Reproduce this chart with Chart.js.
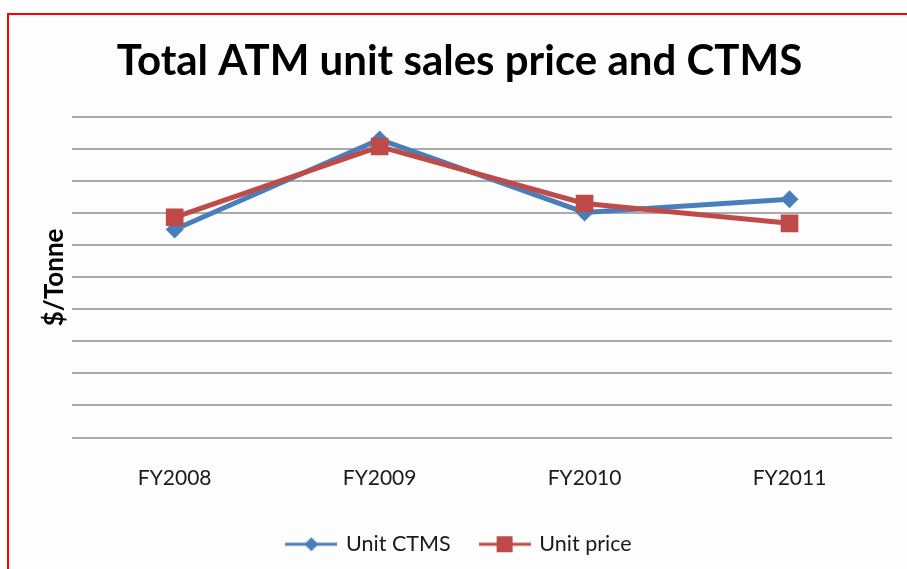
<!DOCTYPE html>
<html>
<head>
<meta charset="utf-8">
<script src="https://cdn.jsdelivr.net/npm/chart.js@4"></script>
<style>
  html, body { margin: 0; padding: 0; background: #fff; }
  #wrap { position: relative; width: 907px; height: 569px; overflow: hidden; }
  #frame { position: absolute; left: 7px; top: 13px; width: 920px; height: 580px;
           border-left: 2px solid #f00; border-top: 2px solid #f00; background: #fdfdfd; }
  canvas { position: absolute; left: 0; top: 0; }
</style>
</head>
<body>
<div id="wrap">
  <div id="frame"></div>
  <canvas id="chart" width="907" height="569"></canvas>
</div>
<script>
// Données
const categories = ['FY2008', 'FY2009', 'FY2010', 'FY2011'];
const unitCtms = [650, 931, 703, 744];
const unitPrice = [688, 909, 731, 669];

const colors = {
    blue: '#4a7ebb',
    red: '#be4b48',
    grid: '#ababab',
    text: '#1a1a1a'
};

// Petit dessin ligne + marqueur pour la légende
function legendMarker(color, shape) {
    const c = document.createElement('canvas');
    c.width = 52;
    c.height = 18;
    const g = c.getContext('2d');
    g.strokeStyle = color;
    g.lineWidth = 3;
    g.beginPath();
    g.moveTo(0, 9);
    g.lineTo(52, 9);
    g.stroke();
    g.fillStyle = color;
    g.beginPath();
    if (shape === 'diamond') {
        g.moveTo(26, 2); g.lineTo(33, 9); g.lineTo(26, 16); g.lineTo(19, 9);
    } else {
        g.rect(18, 1, 16, 16);
    }
    g.closePath();
    g.fill();
    return c;
}

const markers = [legendMarker(colors.blue, 'diamond'), legendMarker(colors.red, 'square')];

new Chart(document.getElementById('chart'), {
    type: 'line',
    data: {
        labels: categories,
        datasets: [{
            label: 'Unit CTMS',
            data: unitCtms,
            borderColor: colors.blue,
            backgroundColor: colors.blue,
            borderWidth: 5,
            pointStyle: 'rectRot',
            pointRadius: 9,
            pointBorderWidth: 0,
            order: 1
        }, {
            label: 'Unit price',
            data: unitPrice,
            borderColor: colors.red,
            backgroundColor: colors.red,
            borderWidth: 5,
            pointStyle: 'rect',
            pointRadius: 12.5,
            pointBorderWidth: 0,
            order: 0
        }]
    },
    options: {
        responsive: false,
        animation: false,
        layout: { padding: { left: 27, right: 15, top: 0, bottom: 4 } },
        plugins: {
            title: {
                display: true,
                text: 'Total ATM unit sales price and CTMS',
                color: '#000',
                font: { family: 'Lato', size: 42, weight: 'bold' },
                padding: { top: 36, bottom: 31 }
            },
            legend: {
                position: 'bottom',
                labels: {
                    usePointStyle: true,
                    pointStyleWidth: 48,
                    padding: 30,
                    color: colors.text,
                    font: { family: 'Lato', size: 21.5 },
                    generateLabels: chart => chart.data.datasets.map((ds, i) => ({
                        text: ds.label,
                        pointStyle: markers[i],
                        fillStyle: ds.borderColor,
                        strokeStyle: ds.borderColor,
                        lineWidth: 0,
                        hidden: false,
                        datasetIndex: i,
                        fontColor: colors.text
                    }))
                }
            },
            tooltip: { enabled: false }
        },
        scales: {
            x: {
                offset: true,
                grid: { display: false, drawTicks: false },
                border: { display: false },
                ticks: {
                    color: colors.text,
                    font: { family: 'Lato', size: 21 },
                    padding: 28
                },
                afterFit: scale => { scale.height = 66; }
            },
            y: {
                min: 0,
                max: 1000,
                border: { display: false },
                grid: { color: colors.grid, lineWidth: 2, drawTicks: false },
                ticks: { display: false, stepSize: 100 },
                title: {
                    display: true,
                    text: '$/Tonne',
                    color: '#000',
                    font: { family: 'Lato', size: 26, weight: 'bold' },
                    padding: { top: 12, bottom: 2 }
                }
            }
        }
    }
});
</script>
</body>
</html>
